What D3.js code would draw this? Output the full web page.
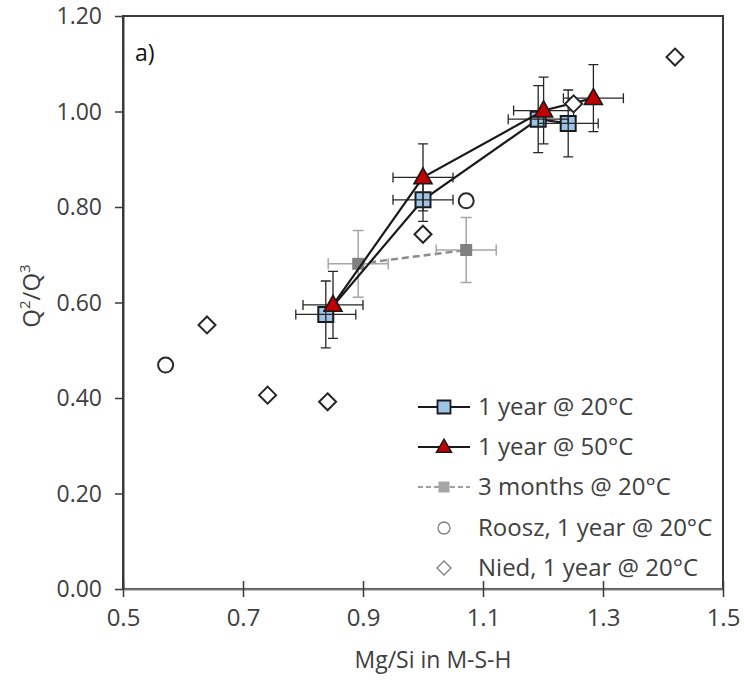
<!DOCTYPE html>
<html>
<head>
<meta charset="utf-8">
<script src="https://cdn.jsdelivr.net/npm/d3@7"></script>
<style>
  html, body { margin: 0; padding: 0; background: #fff; }
  svg { display: block; font-family: "Open Sans", "Noto Sans", sans-serif; }
</style>
</head>
<body>
<svg id="chart" width="744" height="683"></svg>
<script>
// Q2/Q3 ratio of M-S-H versus its Mg/Si ratio
const xTicks = [0.5, 0.7, 0.9, 1.1, 1.3, 1.5];
const yTicks = [0.0, 0.2, 0.4, 0.6, 0.8, 1.0, 1.2];

// 1 year @ 20°C
const yr20X    = [0.838, 1.000, 1.192, 1.242];
const yr20Y    = [0.575, 0.815, 0.984, 0.975];
const yr20XErr = [0.05, 0.05, 0.05, 0.05];
const yr20YErr = [0.07, 0.045, 0.07, 0.07];

// 1 year @ 50°C
const yr50X    = [0.850, 1.000, 1.201, 1.284];
const yr50Y    = [0.595, 0.862, 1.002, 1.028];
const yr50XErr = [0.05, 0.05, 0.05, 0.05];
const yr50YErr = [0.07, 0.07, 0.07, 0.07];

// 3 months @ 20°C
const mo3X    = [0.892, 1.072];
const mo3Y    = [0.681, 0.710];
const mo3XErr = [0.05, 0.05];
const mo3YErr = [0.07, 0.068];

// Roosz, 1 year @ 20°C
const rooszX = [0.571, 1.072];
const rooszY = [0.469, 0.813];

// Nied, 1 year @ 20°C
const niedX = [0.640, 0.741, 0.841, 1.000, 1.251, 1.420];
const niedY = [0.553, 0.406, 0.392, 0.743, 1.016, 1.114];

const legendLabels = ["1 year @ 20°C", "1 year @ 50°C", "3 months @ 20°C",
                      "Roosz, 1 year @ 20°C", "Nied, 1 year @ 20°C"];

const zip = (xs, ys, xe, ye) => xs.map((x, i) => ({
  x, y: ys[i], xe: xe ? xe[i] : 0, ye: ye ? ye[i] : 0 }));

const yr20 = zip(yr20X, yr20Y, yr20XErr, yr20YErr);
const yr50 = zip(yr50X, yr50Y, yr50XErr, yr50YErr);
const mo3  = zip(mo3X, mo3Y, mo3XErr, mo3YErr);
const roosz = zip(rooszX, rooszY);
const nied  = zip(niedX, niedY);

const L = 123, R = 723, T = 16, B = 589;
const x = d3.scaleLinear().domain([0.5, 1.5]).range([L, R]);
const y = d3.scaleLinear().domain([0, 1.2]).range([B, T]);

const svg = d3.select("#chart");
const tickColor = "#404040";
const frame = "#3a3a3a";

// frame
svg.append("rect").attr("x", L).attr("y", T).attr("width", R - L).attr("height", B - T)
  .attr("fill", "none").attr("stroke", frame).attr("stroke-width", 2);

// y axis (ticks cross the axis line)
const yAxis = d3.axisLeft(y).tickValues(yTicks).tickFormat(d3.format(".2f"))
  .tickSizeInner(8).tickSizeOuter(0).tickPadding(13);
const gy = svg.append("g").attr("transform", `translate(${L},0)`).call(yAxis);
gy.attr("font-size", null).attr("font-family", null);
gy.select(".domain").attr("stroke", frame).attr("stroke-width", 2);
gy.selectAll(".tick line").attr("stroke", frame).attr("stroke-width", 1.5).attr("x2", -8).attr("x1", 0);
gy.selectAll(".tick text").attr("fill", tickColor).attr("font-size", "23px").attr("dy", "0.34em");

// x axis
const xAxis = d3.axisBottom(x).tickValues(xTicks).tickFormat(d3.format(".1f"))
  .tickSizeInner(8).tickSizeOuter(0).tickPadding(12);
const gx = svg.append("g").attr("transform", `translate(0,${B})`).call(xAxis);
gx.attr("font-size", null).attr("font-family", null);
gx.select(".domain").attr("stroke", "#7a7a7a").attr("stroke-width", 2);
gx.selectAll(".tick line").attr("stroke", frame).attr("stroke-width", 1.5).attr("y1", -8).attr("y2", 8);
gx.selectAll(".tick text").attr("fill", tickColor).attr("font-size", "24px");

// axis titles
svg.append("text").attr("x", 433).attr("y", 668).attr("text-anchor", "middle")
  .attr("fill", tickColor).attr("font-size", "23px").text("Mg/Si in M-S-H");

const yt = svg.append("text").attr("transform", "translate(40,296) rotate(-90)")
  .attr("text-anchor", "middle").attr("fill", tickColor).attr("font-size", "24px");
yt.append("tspan").text("Q");
yt.append("tspan").attr("baseline-shift", "super").attr("font-size", "15px").text("2");
yt.append("tspan").text("/Q");
yt.append("tspan").attr("baseline-shift", "super").attr("font-size", "15px").text("3");

// panel label
svg.append("text").attr("x", 135).attr("y", 61).attr("fill", "#111")
  .attr("font-size", "23px").text("a)");

// helpers
function errorBars(g, data, color, width, cap) {
  const h = cap / 2;
  const eb = g.append("g").attr("stroke", color).attr("stroke-width", width).attr("fill", "none");
  data.forEach(d => {
    const cx = x(d.x), cy = y(d.y);
    const x0 = x(d.x - d.xe), x1 = x(d.x + d.xe);
    const y0 = y(d.y - d.ye), y1 = y(d.y + d.ye);
    eb.append("path").attr("d",
      `M${x0},${cy}H${x1}M${x0},${cy - h}V${cy + h}M${x1},${cy - h}V${cy + h}` +
      `M${cx},${y0}V${y1}M${cx - h},${y0}H${cx + h}M${cx - h},${y1}H${cx + h}`);
  });
}
const squarePath = s => `M${-s/2},${-s/2}h${s}v${s}h${-s}Z`;
const trianglePath = (w, hgt) => `M0,${-hgt*0.6}L${w/2},${hgt*0.4}L${-w/2},${hgt*0.4}Z`;
const diamondPath = r => `M0,${-r}L${r},0L0,${r}L${-r},0Z`;

const line = d3.line().x(d => x(d.x)).y(d => y(d.y));
const plot = svg.append("g");

// 3 months @ 20°C
plot.append("path").datum(mo3).attr("d", line).attr("fill", "none")
  .attr("stroke", "#8c8c8c").attr("stroke-width", 2.5).attr("stroke-dasharray", "7,4");
errorBars(plot, mo3, "#a6a6a6", 1.5, 11);
plot.append("g").selectAll("path").data(mo3).join("path")
  .attr("transform", d => `translate(${x(d.x)},${y(d.y)})`)
  .attr("d", squarePath(12)).attr("fill", "#808080");

// 1 year @ 20°C
plot.append("path").datum(yr20).attr("d", line).attr("fill", "none")
  .attr("stroke", "#1a1a1a").attr("stroke-width", 2.2);
plot.append("g").selectAll("path").data(yr20).join("path")
  .attr("transform", d => `translate(${x(d.x)},${y(d.y)})`)
  .attr("d", squarePath(15)).attr("fill", "#9dc3e6")
  .attr("stroke", "#1a1a1a").attr("stroke-width", 2);
errorBars(plot, yr20, "#262626", 1.3, 10);

// 1 year @ 50°C
plot.append("path").datum(yr50).attr("d", line).attr("fill", "none")
  .attr("stroke", "#1a1a1a").attr("stroke-width", 2.2);
errorBars(plot, yr50, "#262626", 1.3, 10);
plot.append("g").selectAll("path").data(yr50).join("path")
  .attr("transform", d => `translate(${x(d.x)},${y(d.y)})`)
  .attr("d", trianglePath(18, 16)).attr("fill", "#c00000")
  .attr("stroke", "#1a1a1a").attr("stroke-width", 1.6).attr("stroke-linejoin", "miter");

// Roosz
plot.append("g").selectAll("circle").data(roosz).join("circle")
  .attr("cx", d => x(d.x)).attr("cy", d => y(d.y)).attr("r", 7.5)
  .attr("fill", "#fff").attr("stroke", "#262626").attr("stroke-width", 2);

// Nied
plot.append("g").selectAll("path").data(nied).join("path")
  .attr("transform", d => `translate(${x(d.x)},${y(d.y)})`)
  .attr("d", diamondPath(8.5)).attr("fill", "#fff")
  .attr("stroke", "#262626").attr("stroke-width", 2);

// legend
const legY = [407, 447, 487, 528, 568];
const lg = svg.append("g");
const lx0 = 418, lx1 = 470, lm = 444, tx = 478;
legendLabels.forEach((label, i) => {
  const ly = legY[i];
  const row = lg.append("g").attr("transform", `translate(0,${ly})`);
  if (i === 0) {
    row.append("line").attr("x1", lx0).attr("x2", lx1).attr("stroke", "#1a1a1a").attr("stroke-width", 2);
    row.append("path").attr("transform", `translate(${lm},0)`).attr("d", squarePath(13))
      .attr("fill", "#9dc3e6").attr("stroke", "#1a1a1a").attr("stroke-width", 1.8);
  } else if (i === 1) {
    row.append("line").attr("x1", lx0).attr("x2", lx1).attr("stroke", "#1a1a1a").attr("stroke-width", 2);
    row.append("path").attr("transform", `translate(${lm},0)`).attr("d", trianglePath(15, 13))
      .attr("fill", "#c00000").attr("stroke", "#1a1a1a").attr("stroke-width", 1.5);
  } else if (i === 2) {
    row.append("line").attr("x1", lx0).attr("x2", lx1).attr("stroke", "#a0a0a0")
      .attr("stroke-width", 2).attr("stroke-dasharray", "5,3");
    row.append("path").attr("transform", `translate(${lm},0)`).attr("d", squarePath(11))
      .attr("fill", "#a6a6a6");
  } else if (i === 3) {
    row.append("circle").attr("cx", lm).attr("cy", 0).attr("r", 6)
      .attr("fill", "#fff").attr("stroke", "#7f7f7f").attr("stroke-width", 1.3);
  } else {
    row.append("path").attr("transform", `translate(${lm},0)`).attr("d", diamondPath(7))
      .attr("fill", "#fff").attr("stroke", "#7f7f7f").attr("stroke-width", 1.3);
  }
  row.append("text").attr("x", tx).attr("y", 8).attr("fill", "#404040")
    .attr("font-size", "24px").text(label);
});
</script>
</body>
</html>
